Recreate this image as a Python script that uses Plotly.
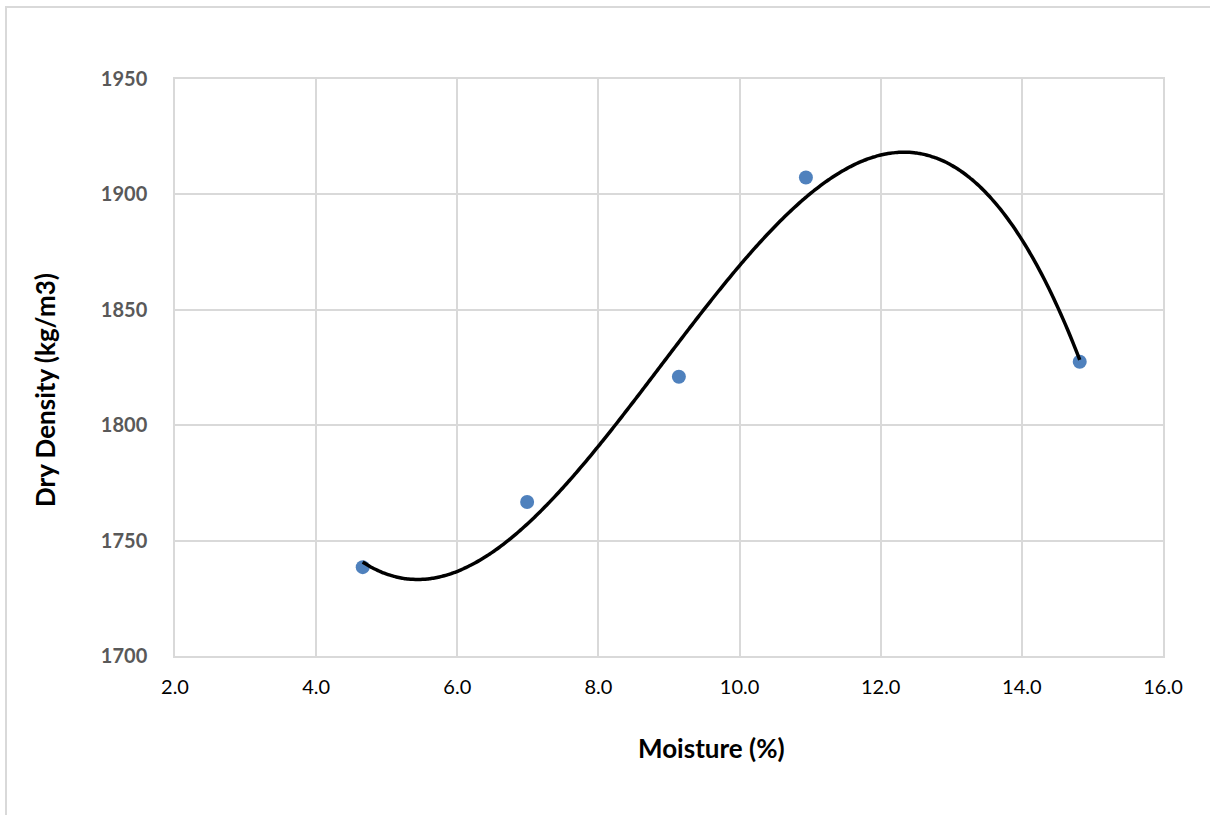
import numpy as np
import plotly.graph_objects as go

# Compaction test results
moisture = [4.66, 6.99, 9.14, 10.94, 14.82]        # %
dry_density = [1738.5, 1766.7, 1821.0, 1907.3, 1827.5]  # kg/m3

x_ticks = [2.0, 4.0, 6.0, 8.0, 10.0, 12.0, 14.0, 16.0]
y_ticks = [1700, 1750, 1800, 1850, 1900, 1950]

# Third-order polynomial trendline through the measured points
coef = np.polyfit(moisture, dry_density, 3)
xs = np.linspace(min(moisture), max(moisture), 300)
ys = np.polyval(coef, xs)

fig = go.Figure()
fig.add_trace(go.Scatter(
    x=moisture, y=dry_density, mode="markers",
    marker=dict(size=14, color="#4F81BD"),
    showlegend=False, cliponaxis=False,
))
fig.add_trace(go.Scatter(
    x=xs, y=ys, mode="lines",
    line=dict(color="black", width=3.5, shape="spline"),
    showlegend=False,
))

grid = "#D9D9D9"
fig.update_xaxes(
    range=[2, 16], tickvals=x_ticks, ticktext=[f"{v:.1f}" for v in x_ticks],
    showgrid=True, gridcolor=grid, gridwidth=1.5,
    showline=True, linecolor=grid, linewidth=1.5, mirror=True,
    zeroline=False, ticks="", ticklabelstandoff=12,
    tickfont=dict(family="Lato", size=20, color="black"),
)
fig.update_yaxes(
    range=[1700, 1950], tickvals=y_ticks,
    ticktext=[f"<b>{v}</b>" for v in y_ticks],
    showgrid=True, gridcolor=grid, gridwidth=1.5,
    showline=True, linecolor=grid, linewidth=1.5, mirror=True,
    zeroline=False, ticks="", ticklabelstandoff=22,
    tickfont=dict(family="Lato", size=20, color="#595959"),
)

# Axis titles
title_font = dict(family="Lato", size=26, color="black")
fig.add_annotation(text="<b>Moisture (%)</b>", xref="paper", yref="paper",
                   x=(711 - 175) / 988, y=(656 - 748) / 577,
                   xanchor="center", yanchor="middle", showarrow=False,
                   font=title_font)
fig.add_annotation(text="<b>Dry Density (kg/m3)</b>", xref="paper", yref="paper",
                   x=(45 - 175) / 988, y=(656 - 390) / 577, textangle=-90,
                   xanchor="center", yanchor="middle", showarrow=False,
                   font=title_font)

# Outer chart frame
fig.add_shape(type="rect", xref="paper", yref="paper",
              x0=(6 - 175) / 988, x1=1.2, y0=-0.4, y1=1 + (79 - 7) / 577,
              line=dict(color="#D9D9D9", width=2), layer="below")

fig.update_layout(
    width=1210, height=815,
    margin=dict(l=175, r=47, t=79, b=159),
    paper_bgcolor="white", plot_bgcolor="white",
)

fig.write_html("out.html")
